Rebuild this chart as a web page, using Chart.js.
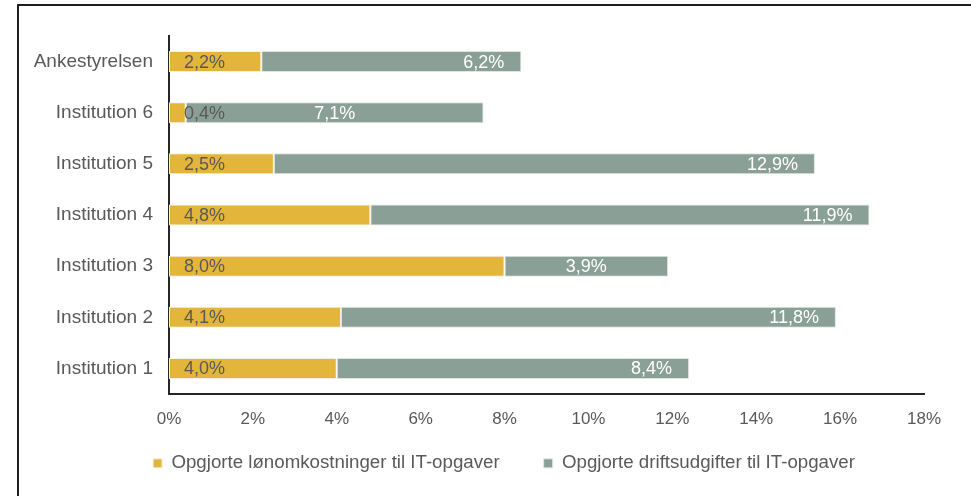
<!DOCTYPE html>
<html>
<head>
<meta charset="utf-8">
<script src="https://cdn.jsdelivr.net/npm/chart.js@4"></script>
<style>
  html, body { margin: 0; padding: 0; background: #fff; overflow: hidden; }
  #wrap { position: relative; width: 971px; height: 496px; }
  #frame { position: absolute; left: 17px; top: 4px; width: 1000px; height: 600px; border: 2px solid #1e1e1e; box-sizing: border-box; pointer-events: none; }
  canvas { position: absolute; left: 0; top: 0; }
</style>
</head>
<body>
<div id="wrap">
  <div id="frame"></div>
  <canvas id="chart" width="971" height="496"></canvas>
</div>
<script>
// kategorier, øverst først
const categories = ['Ankestyrelsen', 'Institution 6', 'Institution 5', 'Institution 4', 'Institution 3', 'Institution 2', 'Institution 1'];
const seriesNames = ['Opgjorte lønomkostninger til IT-opgaver', 'Opgjorte driftsudgifter til IT-opgaver'];
const loenValues = [2.2, 0.4, 2.5, 4.8, 8.0, 4.1, 4.0];
const driftValues = [6.2, 7.1, 12.9, 11.9, 3.9, 11.8, 8.4];
// placering af etiketter for driftsudgifter (som i originalen)
const driftLabelAlign = ['end', 'center', 'end', 'end', 'center', 'end', 'end'];
const xTicks = [0, 2, 4, 6, 8, 10, 12, 14, 16, 18];

const FONT = "'Liberation Sans', Arial, sans-serif";
const TEXT = '#595959';

const fmt = v => v.toFixed(1).replace('.', ',') + '%';

// tegner dataetiketter inde i søjlerne
const barLabels = {
  id: 'barLabels',
  afterDatasetsDraw(chart) {
    const ctx = chart.ctx;
    ctx.save();
    ctx.font = '18px ' + FONT;
    ctx.textBaseline = 'middle';
    chart.data.datasets.forEach((ds, di) => {
      const meta = chart.getDatasetMeta(di);
      meta.data.forEach((bar, i) => {
        const start = Math.min(bar.base, bar.x);
        const end = Math.max(bar.base, bar.x);
        const txt = fmt(ds.data[i]);
        if (di === 0) {
          ctx.fillStyle = TEXT;
          ctx.textAlign = 'left';
          ctx.fillText(txt, chart.scales.x.getPixelForValue(0) + 15, bar.y + 1);
        } else {
          ctx.fillStyle = '#ffffff';
          if (driftLabelAlign[i] === 'center') {
            ctx.textAlign = 'center';
            ctx.fillText(txt, (start + end) / 2, bar.y + 1);
          } else {
            ctx.textAlign = 'right';
            ctx.fillText(txt, end - 17, bar.y + 1);
          }
        }
      });
    });
    ctx.restore();
  }
};

// flytter legenden lidt, så den sidder som i Excel-figuren
const legendShift = {
  id: 'legendShift',
  afterLayout(chart) {
    const lg = chart.legend;
    lg.left += 42;
    lg.right += 42;
    lg.top -= 20;
    lg.bottom -= 20;
  }
};

new Chart(document.getElementById('chart'), {
  type: 'bar',
  data: {
    labels: categories,
    datasets: [
      {
        label: seriesNames[0],
        data: loenValues,
        backgroundColor: '#E4B53B',
        borderColor: '#f3f0e6',
        borderWidth: 1,
        borderSkipped: false
      },
      {
        label: seriesNames[1],
        data: driftValues,
        backgroundColor: '#8AA096',
        borderColor: '#dfe6e2',
        borderWidth: 1,
        borderSkipped: false
      }
    ]
  },
  options: {
    indexAxis: 'y',
    responsive: false,
    animation: false,
    maintainAspectRatio: false,
    layout: { padding: { top: 36, left: 0, right: 47, bottom: 0 } },
    datasets: {
      bar: { barPercentage: 0.82, categoryPercentage: 0.5 }
    },
    scales: {
      x: {
        stacked: true,
        min: 0,
        max: 18,
        afterBuildTicks: scale => { scale.ticks = xTicks.map(v => ({ value: v })); },
        afterFit: scale => { scale.height = 36; },
        grid: { display: false, drawTicks: false },
        border: { display: true, color: '#262626', width: 2 },
        ticks: {
          padding: 15,
          color: TEXT,
          font: { family: FONT, size: 17 },
          callback: v => v + '%'
        }
      },
      y: {
        stacked: true,
        afterFit: scale => { scale.width = 169; },
        grid: { display: false, drawTicks: false },
        border: { display: true, color: '#262626', width: 2 },
        ticks: {
          padding: 16,
          color: TEXT,
          font: { family: FONT, size: 19 }
        }
      }
    },
    plugins: {
      legend: {
        position: 'bottom',
        maxHeight: 66,
        labels: {
          boxWidth: 9,
          boxHeight: 9,
          padding: 44,
          color: TEXT,
          font: { family: FONT, size: 18.7 }
        }
      },
      tooltip: { enabled: false }
    }
  },
  plugins: [barLabels, legendShift]
});
</script>
</body>
</html>
